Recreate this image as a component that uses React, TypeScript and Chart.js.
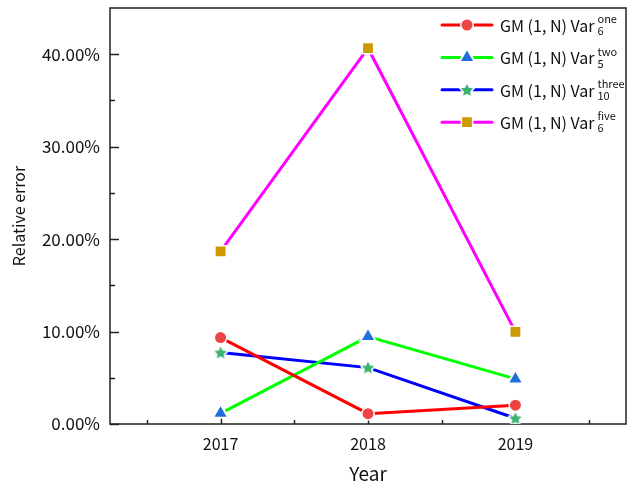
import React, { useEffect, useRef } from "react";
import { Chart, registerables } from "chart.js";

Chart.register(...registerables);

const years = [2017, 2018, 2019];
const varOne = [9.35, 1.12, 2.03];
const varTwo = [1.15, 9.46, 4.88];
const varThree = [7.73, 6.1, 0.62];
const varFive = [18.68, 40.65, 9.97];

const seriesSubs = ["6", "5", "10", "6"];
const seriesSups = ["one", "two", "three", "five"];
const yMajorTicks = [0, 10, 20, 30, 40];
const yMinorTicks = [5, 15, 25, 35];
const xMinorTicks = [2016.5, 2017.5, 2018.5, 2019.5];

const FONT = "'Noto Sans CJK SC', 'Noto Sans', sans-serif";

function starPath(g: CanvasRenderingContext2D, cx: number, cy: number, R: number) {
  const r = R * 0.5;
  g.beginPath();
  for (let i = 0; i < 10; i++) {
    const rad = i % 2 === 0 ? R : r;
    const a = -Math.PI / 2 + (i * Math.PI) / 5;
    const px = cx + rad * Math.cos(a);
    const py = cy + rad * Math.sin(a);
    if (i === 0) g.moveTo(px, py);
    else g.lineTo(px, py);
  }
  g.closePath();
}

// star marker with a thin white halo so the line stops short of it
function makeStar(size: number, R: number, color: string): HTMLCanvasElement {
  const c = document.createElement("canvas");
  c.width = size;
  c.height = size;
  const g = c.getContext("2d")!;
  starPath(g, size / 2, size / 2 + 0.6, R);
  g.lineJoin = "round";
  g.strokeStyle = "#fff";
  g.lineWidth = 3;
  g.stroke();
  g.fillStyle = color;
  g.fill();
  return c;
}

function drawMarker(g: CanvasRenderingContext2D, kind: string, x: number, y: number, color: string) {
  g.fillStyle = color;
  g.strokeStyle = "#fff";
  g.lineWidth = 1.5;
  if (kind === "circle") {
    g.beginPath();
    g.arc(x, y, 6.25, 0, Math.PI * 2);
    g.fill();
    g.stroke();
  } else if (kind === "triangle") {
    const side = 9 * Math.sqrt(3);
    const h = (side * Math.sqrt(3)) / 2;
    g.beginPath();
    g.moveTo(x, y - (2 * h) / 3);
    g.lineTo(x + side / 2, y + h / 3);
    g.lineTo(x - side / 2, y + h / 3);
    g.closePath();
    g.fill();
    g.lineWidth = 2;
    g.stroke();
  } else if (kind === "star") {
    starPath(g, x, y + 0.6, 6.5);
    g.lineJoin = "round";
    g.lineWidth = 3;
    g.stroke();
    g.fill();
  } else {
    g.fillRect(x - 5.6, y - 5.6, 11.2, 11.2);
    g.strokeRect(x - 5.6, y - 5.6, 11.2, 11.2);
  }
}

export default function App() {
  const canvasRef = useRef<HTMLCanvasElement | null>(null);

  useEffect(() => {
    const canvas = canvasRef.current;
    if (!canvas) return;

    const starImg = makeStar(18, 6.5, "#3cb371");
    const pts = (vals: number[]) => years.map((x, i) => ({ x, y: vals[i] }));

    const lineColors = ["#ff0000", "#00ff00", "#0000ff", "#ff00ff"];
    const markerColors = ["#ef4444", "#1f6fdb", "#3cb371", "#cc9900"];
    const markerKinds = ["circle", "triangle", "star", "rect"];

    const frame = {
      id: "frameAndTicks",
      beforeDatasetsDraw(chart: any) {
        const { ctx, chartArea: a, scales } = chart;
        const xs = scales.x;
        const ys = scales.y;
        ctx.save();
        ctx.strokeStyle = "#222";
        ctx.lineWidth = 1.5;
        ctx.strokeRect(a.left, a.top, a.right - a.left, a.bottom - a.top);
        ctx.beginPath();
        for (const v of yMajorTicks) {
          const py = Math.round(ys.getPixelForValue(v)) + 0.5;
          ctx.moveTo(a.left, py);
          ctx.lineTo(a.left + 9, py);
        }
        for (const v of yMinorTicks) {
          const py = Math.round(ys.getPixelForValue(v)) + 0.5;
          ctx.moveTo(a.left, py);
          ctx.lineTo(a.left + 5, py);
        }
        for (const v of years) {
          const px = Math.round(xs.getPixelForValue(v)) + 0.5;
          ctx.moveTo(px, a.bottom);
          ctx.lineTo(px, a.bottom - 9);
        }
        for (const v of xMinorTicks) {
          const px = Math.round(xs.getPixelForValue(v)) + 0.5;
          ctx.moveTo(px, a.bottom);
          ctx.lineTo(px, a.bottom - 4);
        }
        ctx.stroke();
        ctx.restore();
      },
      afterDraw(chart: any) {
        const { ctx } = chart;
        ctx.save();
        // legend with sub/superscripts
        const lx0 = 442;
        const lx1 = 492;
        for (let i = 0; i < 4; i++) {
          const y = 25 + 32.4 * i;
          ctx.strokeStyle = lineColors[i];
          ctx.lineWidth = 3;
          ctx.lineCap = "round";
          ctx.beginPath();
          ctx.moveTo(lx0, y);
          ctx.lineTo(lx1, y);
          ctx.stroke();
          ctx.lineCap = "butt";
          drawMarker(ctx, markerKinds[i], (lx0 + lx1) / 2, y, markerColors[i]);
          ctx.fillStyle = "#111";
          ctx.textBaseline = "middle";
          ctx.textAlign = "left";
          ctx.font = `16px ${FONT}`;
          const main = "GM (1, N) Var";
          ctx.fillText(main, 500, y + 1);
          const w = ctx.measureText(main).width;
          ctx.font = `11px ${FONT}`;
          ctx.fillText(seriesSups[i], 500 + w + 3, y - 6);
          ctx.fillText(seriesSubs[i], 500 + w + 3, y + 6);
        }
        ctx.restore();
      },
    };

    const ds = (label: string, vals: number[], i: number, extra: any) => ({
      label,
      data: pts(vals),
      borderColor: lineColors[i],
      backgroundColor: markerColors[i],
      pointBackgroundColor: markerColors[i],
      pointBorderColor: "#ffffff",
      pointBorderWidth: 1.5,
      borderWidth: 3,
      ...extra,
    });

    const chart = new Chart(canvas, {
      type: "line",
      data: {
        datasets: [
          ds("GM (1, N) Var one 6", varOne, 0, { pointStyle: "circle", pointRadius: 6.25 }),
          ds("GM (1, N) Var two 5", varTwo, 1, { pointStyle: "triangle", pointRadius: 9, pointBorderWidth: 2 }),
          ds("GM (1, N) Var three 10", varThree, 2, { pointStyle: starImg, pointRadius: 9 }),
          ds("GM (1, N) Var five 6", varFive, 3, { pointStyle: "rect", pointRadius: 8 }),
        ],
      },
      options: {
        animation: false,
        responsive: true,
        maintainAspectRatio: false,
        layout: { autoPadding: false, padding: { top: 8, right: 2, bottom: 0, left: 0 } },
        plugins: {
          legend: { display: false },
          tooltip: { enabled: false },
        },
        scales: {
          x: {
            type: "linear",
            min: 2016.25,
            max: 2019.75,
            grid: { display: false, drawTicks: false },
            border: { display: false },
            ticks: {
              stepSize: 1,
              includeBounds: false,
              padding: 10,
              color: "#111",
              font: { family: FONT, size: 16 },
              callback: (v: any) => String(v),
            },
            title: {
              display: true,
              text: "Year",
              color: "#111",
              font: { family: FONT, size: 19 },
              padding: { top: 0, bottom: 0 },
            },
            afterFit: (s: any) => {
              s.height = 61;
              s.paddingLeft = 0;
              s.paddingRight = 0;
            },
          },
          y: {
            type: "linear",
            min: 0,
            max: 45,
            grid: { display: false, drawTicks: false },
            border: { display: false },
            ticks: {
              stepSize: 10,
              includeBounds: false,
              padding: 10,
              color: "#111",
              font: { family: FONT, size: 17 },
              callback: (v: any) => `${Number(v).toFixed(2)}%`,
            },
            title: {
              display: true,
              text: "Relative error",
              color: "#111",
              font: { family: FONT, size: 16 },
              padding: { top: 9, bottom: 0 },
            },
            afterFit: (s: any) => {
              s.width = 110;
              s.paddingTop = 0;
              s.paddingBottom = 0;
            },
          },
        },
      },
      plugins: [frame],
    });

    return () => chart.destroy();
  }, []);

  return (
    <div style={{ position: "fixed", left: 0, top: 0, width: 628, height: 485, background: "#fff" }}>
      <canvas ref={canvasRef} />
    </div>
  );
}
